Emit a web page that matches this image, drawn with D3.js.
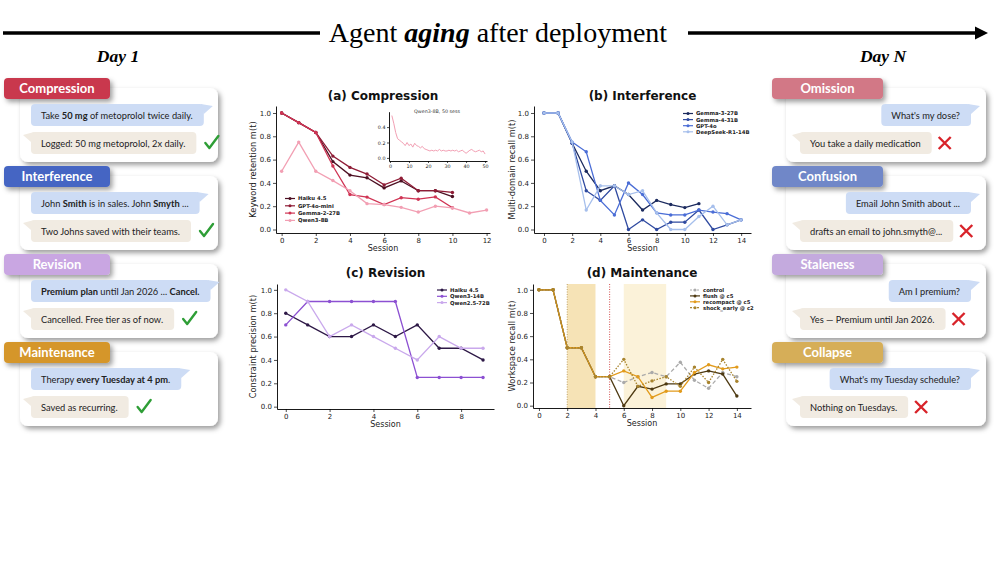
<!DOCTYPE html>
<html>
<head>
<meta charset="utf-8">
<script src="https://cdn.jsdelivr.net/npm/d3@7"></script>
<style>
  body { margin: 0; background: #fff; }
  svg { display: block; }
</style>
</head>
<body>
<svg id="fig" width="996" height="565"></svg>
<script>
// ---------------- data ----------------
// (a) Compression: keyword retention per session
const compHaiku   = [1.0, 0.917, 0.833, 0.583, 0.467, 0.444, 0.357, 0.417, 0.333, 0.333, 0.283];
const compGpt4oMini = [1.0, 0.917, 0.833, 0.63, 0.533, 0.476, 0.383, 0.44, 0.333, 0.333, 0.318];
const compGemma2  = [1.0, 0.917, 0.833, 0.545, 0.30, 0.278, 0.214, 0.273, 0.26, 0.28, 0.187];
const compQwen3   = [0.5, 0.75, 0.5, 0.42, 0.333, 0.222, 0.214, 0.19, 0.15, 0.20, 0.185, 0.142, 0.167];
// inset: Qwen3-8B over 50 sessions (sessions 1..50)
const insetQwen50 = [0.55, 0.45, 0.33, 0.25, 0.23, 0.21, 0.19, 0.16, 0.20, 0.16,
                     0.18, 0.14, 0.19, 0.16, 0.15, 0.13, 0.15, 0.12, 0.11, 0.10,
                     0.09, 0.10, 0.09, 0.10, 0.09, 0.11, 0.09, 0.10, 0.09, 0.09,
                     0.10, 0.09, 0.10, 0.09, 0.10, 0.08, 0.09, 0.10, 0.08, 0.06,
                     0.08, 0.10, 0.11, 0.09, 0.08, 0.09, 0.10, 0.08, 0.09, 0.05];

// (b) Interference: multi-domain recall
const intGemma3   = [1, 1, 0.74, 0.5, 0.333, 0.375, 0.30, 0.167, 0.25, 0.214, 0.188, 0.222];
const intGemma4   = [1, 1, 0.74, 0.333, 0.25, 0.375, 0.0, 0.083, 0.0, 0.0625, 0.0625, 0.167, 0.0, 0.04, 0.083];
const intGpt4o    = [1, 1, 0.75, 0.667, 0.25, 0.125, 0.40, 0.30, 0.143, 0.125, 0.125, 0.167, 0.15, 0.136, 0.083];
const intDeepSeek = [1, 1, 0.75, 0.167, 0.375, 0.375, 0.30, 0.333, 0.143, 0.0, 0.0, 0.111, 0.20, 0.04, 0.083];

// (c) Revision: constraint precision
const revHaiku  = [0.8, 0.7, 0.6, 0.6, 0.7, 0.6, 0.7, 0.5, 0.5, 0.4];
const revQwen3  = [0.7, 0.9, 0.9, 0.9, 0.9, 0.9, 0.25, 0.25, 0.25, 0.25];
const revQwen25 = [1.0, 0.9, 0.6, 0.7, 0.6, 0.5, 0.4, 0.6, 0.5, 0.5];

// (d) Maintenance: workspace recall
const mainControl   = [1, 1, 0.5, 0.5, 0.25, 0.25, 0.20, 0.25, 0.286, 0.25, 0.375, 0.22, 0.15, 0.286, 0.25];
const mainFlush     = [1, 1, 0.5, 0.5, 0.25, 0.25, 0.0, 0.167, 0.143, 0.188, 0.188, 0.273, 0.30, 0.273, 0.083];
const mainRecompact = [1, 1, 0.5, 0.5, 0.25, 0.25, 0.30, 0.25, 0.071, 0.125, 0.125, 0.286, 0.353, 0.318, 0.333];
const mainShock     = [1, 1, 0.5, 0.5, 0.25, 0.25, 0.40, 0.167, 0.214, 0.25, 0.167, 0.333, 0.20, 0.40, 0.21];
const shadedSpans   = [[2, 4], [6, 9]];
const markerSessions = [2, 5];

// tick labels
const ticksA = [0, 2, 4, 6, 8, 10, 12];
const ticksB = [0, 2, 4, 6, 8, 10, 12, 14];
const ticksC = [0, 2, 4, 6, 8];
const ticksY = [0, 0.2, 0.4, 0.6, 0.8, 1.0];
const ticksInsetX = [0, 10, 20, 30, 40, 50];
const ticksInsetY = [0, 0.2, 0.4];

// cards (text pieces: [text, bold])
const leftTags = ["Compression", "Interference", "Revision", "Maintenance"];
const leftUserMsgs = [
  [["Take ", 0], ["50 mg", 1], [" of metoprolol twice daily.", 0]],
  [["John ", 0], ["Smith", 1], [" is in sales. John ", 0], ["Smyth", 1], [" ...", 0]],
  [["Premium plan", 1], [" until Jan 2026 ... ", 0], ["Cancel.", 1]],
  [["Therapy ", 0], ["every Tuesday at 4 pm", 1], [".", 0]]
];
const leftReplies = ["Logged: 50 mg metoprolol, 2x daily.", "Two Johns saved with their teams.",
                     "Cancelled. Free tier as of now.", "Saved as recurring."];
const rightTags = ["Omission", "Confusion", "Staleness", "Collapse"];
const rightUserMsgs = ["What's my dose?", "Email John Smith about ...", "Am I premium?", "What's my Tuesday schedule?"];
const rightReplies = ["You take a daily medication", "drafts an email to john.smyth@...",
                      "Yes \u2014 Premium until Jan 2026.", "Nothing on Tuesdays."];

// ---------------- drawing ----------------
const svg = d3.select("#fig");
const defs = svg.append("defs");
defs.append("filter").attr("id", "shadow").attr("x", "-20%").attr("y", "-20%").attr("width", "150%").attr("height", "160%")
  .append("feDropShadow").attr("dx", 2.5).attr("dy", 3).attr("stdDeviation", 2.4)
  .attr("flood-color", "#000").attr("flood-opacity", 0.38);

// header
svg.append("line").attr("x1", 3).attr("x2", 320).attr("y1", 33).attr("y2", 33)
  .attr("stroke", "#000").attr("stroke-width", 3.5);
svg.append("line").attr("x1", 688).attr("x2", 977).attr("y1", 33).attr("y2", 33)
  .attr("stroke", "#000").attr("stroke-width", 3.5);
svg.append("path").attr("d", "M975,26.5 L988,33 L975,39.5 Z").attr("fill", "#000");

const title = svg.append("text").attr("x", 498).attr("y", 42).attr("text-anchor", "middle")
  .attr("font-family", "Liberation Serif").attr("font-size", 28).attr("fill", "#000");
title.append("tspan").text("Agent ");
title.append("tspan").attr("font-style", "italic").attr("font-weight", "bold").text("aging");
title.append("tspan").text(" after deployment");

[["Day 1", 118], ["Day N", 883]].forEach(([t, x]) => {
  svg.append("text").attr("x", x).attr("y", 62).attr("text-anchor", "middle")
    .attr("font-family", "Liberation Serif").attr("font-style", "italic").attr("font-weight", "bold")
    .attr("font-size", 17.5).text(t);
});

// cards
const leftColors = ["#c9384d", "#4565c3", "#c9a6e2", "#d5962b"];
const rightColors = ["#d27886", "#6f87c8", "#c4aade", "#d6ae58"];
const cardFont = "Lato";

function bubble(g, x, y, pieces, kind, anchorRight) {
  const bg = g.append("g");
  const rect = bg.append("rect").attr("y", y).attr("height", 22).attr("rx", 4)
    .attr("fill", kind === "user" ? "#cddcf5" : "#f1ebe2");
  const tail = bg.append("path").attr("fill", kind === "user" ? "#cddcf5" : "#f1ebe2");
  const txt = bg.append("text").attr("y", y + 14.5).attr("font-family", cardFont)
    .attr("font-size", 9.3).attr("fill", "#222");
  (typeof pieces === "string" ? [[pieces, 0]] : pieces).forEach(([t, b]) => {
    txt.append("tspan").attr("font-weight", b ? "bold" : null).text(t);
  });
  const tw = txt.node().getComputedTextLength();
  const w = tw + 21;
  const bx = anchorRight ? x - w : x;
  rect.attr("x", bx).attr("width", w);
  txt.attr("x", bx + 10);
  if (kind === "user") {
    const r = bx + w;
    tail.attr("d", `M${r - 3},${y} L${r + 9},${y + 2} L${r},${y + 10} Z`);
  } else {
    tail.attr("d", `M${bx + 3},${y} L${bx - 8},${y + 3} L${bx},${y + 10} Z`);
  }
  return bx + w;
}

function card(i, side) {
  const top = 88 + i * 88;
  const cardX = side === "left" ? 20 : 786;
  const cardW = side === "left" ? 198 : 200;
  const tagX = side === "left" ? 4 : 772;
  const tagW = side === "left" ? 106 : 111;
  const g = svg.append("g");
  g.append("rect").attr("x", cardX).attr("y", top).attr("width", cardW).attr("height", 74)
    .attr("rx", 8).attr("fill", "#fff").attr("filter", "url(#shadow)");
  g.append("rect").attr("x", tagX).attr("y", top - 10).attr("width", tagW).attr("height", 21)
    .attr("rx", 4).attr("fill", side === "left" ? leftColors[i] : rightColors[i]).attr("filter", "url(#shadow)");
  g.append("text").attr("x", tagX + tagW / 2).attr("y", top + 4.8).attr("text-anchor", "middle")
    .attr("font-family", cardFont).attr("font-weight", "bold").attr("font-size", 13).attr("fill", "#fff")
    .text(side === "left" ? leftTags[i] : rightTags[i]);
  let endX;
  if (side === "left") {
    bubble(g, 31, top + 16, leftUserMsgs[i], "user", false);
    endX = bubble(g, 31, top + 44, leftReplies[i], "reply", false);
    const cx = endX + 15, cy = top + 55;
    g.append("path").attr("d", `M${cx - 6},${cy} L${cx - 2},${cy + 5} L${cx + 7},${cy - 7}`)
      .attr("fill", "none").attr("stroke", "#2e9e36").attr("stroke-width", 2.4)
      .attr("stroke-linejoin", "round").attr("stroke-linecap", "round");
  } else {
    bubble(g, 971, top + 16, rightUserMsgs[i], "user", true);
    endX = bubble(g, 800, top + 44, rightReplies[i], "reply", false);
    const cx = endX + 13, cy = top + 55;
    g.append("path").attr("d", `M${cx - 6},${cy - 6} L${cx + 6},${cy + 6} M${cx + 6},${cy - 6} L${cx - 6},${cy + 6}`)
      .attr("fill", "none").attr("stroke", "#d8232a").attr("stroke-width", 2.4);
  }
}
d3.range(4).forEach(i => { card(i, "left"); card(i, "right"); });

// ---------------- chart panels ----------------
const axisFont = "DejaVu Sans";

function styleAxis(g, fs) {
  g.attr("font-family", axisFont).attr("font-size", fs);
  g.select(".domain").attr("stroke", "#000").attr("stroke-width", 0.9);
  g.selectAll(".tick line").attr("stroke", "#000").attr("stroke-width", 0.7);
  g.selectAll(".tick text").attr("fill", "#222");
}

function drawPanel(p) {
  const g = svg.append("g");
  const [x0, x1] = p.x.range();
  const [yb, yt] = p.y.range();
  if (p.under) p.under(g);

  g.append("g").attr("transform", `translate(0,${yb})`)
    .call(d3.axisBottom(p.x).tickValues(p.xticks).tickFormat(d3.format("d"))
      .tickSize(3).tickSizeOuter(0).tickPadding(2))
    .call(a => styleAxis(a, 7));
  g.append("g").attr("transform", `translate(${x0},0)`)
    .call(d3.axisLeft(p.y).tickValues(ticksY).tickFormat(d3.format(".1f"))
      .tickSize(3).tickSizeOuter(0).tickPadding(2))
    .call(a => styleAxis(a, 7));

  g.append("text").attr("x", (x0 + x1) / 2).attr("y", p.titleY).attr("text-anchor", "middle")
    .attr("font-family", axisFont).attr("font-weight", "bold").attr("font-size", 12).attr("fill", "#111")
    .text(p.title);
  g.append("text").attr("x", (x0 + x1) / 2).attr("y", yb + 18).attr("text-anchor", "middle")
    .attr("font-family", axisFont).attr("font-size", 8).attr("fill", "#222").text("Session");
  g.append("text").attr("transform", `translate(${p.ylabelX},${(yb + yt) / 2}) rotate(-90)`)
    .attr("text-anchor", "middle").attr("font-family", axisFont).attr("font-size", 8.3).attr("fill", "#222")
    .text(p.ylabel);

  const line = d3.line().x((d, i) => p.x(i)).y(d => p.y(d));
  p.series.forEach(s => {
    g.append("path").datum(s.values).attr("fill", "none").attr("stroke", s.color)
      .attr("stroke-width", 1.3).attr("stroke-dasharray", s.dash || null).attr("d", line);
    g.append("g").selectAll("circle").data(s.values).join("circle")
      .attr("cx", (d, i) => p.x(i)).attr("cy", d => p.y(d)).attr("r", 1.7).attr("fill", s.color);
  });

  // legend
  p.series.forEach((s, k) => {
    const ly = p.legend.y + k * p.legend.dy, lx = p.legend.x;
    g.append("line").attr("x1", lx).attr("x2", lx + 10).attr("y1", ly).attr("y2", ly)
      .attr("stroke", s.color).attr("stroke-width", 1.2).attr("stroke-dasharray", s.dash ? "2,1.5" : null);
    g.append("circle").attr("cx", lx + 5).attr("cy", ly).attr("r", 1.5).attr("fill", s.color);
    g.append("text").attr("x", lx + 13).attr("y", ly + 1.9).attr("font-family", axisFont)
      .attr("font-weight", "bold").attr("font-size", 5.3).attr("fill", "#222").text(s.name);
  });
  return g;
}

// (a) Compression
const xA = d3.scaleLinear([-0.33, 12.2], [276, 490]);
const yA = d3.scaleLinear([-0.03, 1.06], [233, 106]);
const gA = drawPanel({
  x: xA, y: yA, xticks: ticksA, title: "(a) Compression", titleY: 100,
  ylabel: "Keyword retention  m(t)", ylabelX: 256,
  legend: { x: 285, y: 198.5, dy: 7.3 },
  series: [
    { name: "Haiku 4.5", values: compHaiku, color: "#4c0f22" },
    { name: "GPT-4o-mini", values: compGpt4oMini, color: "#8f1c36" },
    { name: "Gemma-2-27B", values: compGemma2, color: "#d03454" },
    { name: "Qwen3-8B", values: compQwen3, color: "#f29fb3" }
  ]
});

// inset
const xI = d3.scaleLinear([-0.5, 51], [389, 487]);
const yI = d3.scaleLinear([-0.04, 0.6], [161, 111.7]);
gA.append("g").attr("transform", "translate(0,161)")
  .call(d3.axisBottom(xI).tickValues(ticksInsetX).tickFormat(d3.format("d")).tickSize(2).tickSizeOuter(0).tickPadding(1.5))
  .call(a => styleAxis(a, 4.8));
gA.append("g").attr("transform", "translate(389,0)")
  .call(d3.axisLeft(yI).tickValues(ticksInsetY).tickFormat(d3.format(".1f")).tickSize(2).tickSizeOuter(0).tickPadding(1.5))
  .call(a => styleAxis(a, 4.8));
gA.append("path").datum(insetQwen50).attr("fill", "none").attr("stroke", "#f29fb3").attr("stroke-width", 1)
  .attr("d", d3.line().x((d, i) => xI(i + 1)).y(d => yI(d)));
gA.append("text").attr("x", 437).attr("y", 113).attr("text-anchor", "middle").attr("font-family", axisFont)
  .attr("font-size", 4.8).attr("fill", "#333").text("Qwen3-8B, 50 sess");

// (b) Interference
drawPanel({
  x: d3.scaleLinear([-0.71, 14.7], [534, 751]), y: d3.scaleLinear([-0.03, 1.06], [233, 106]),
  xticks: ticksB, title: "(b) Interference", titleY: 100,
  ylabel: "Multi-domain recall  m(t)", ylabelX: 515,
  legend: { x: 683, y: 113.5, dy: 6.1 },
  series: [
    { name: "Gemma-3-27B", values: intGemma3, color: "#1b2a5e" },
    { name: "Gemma-4-31B", values: intGemma4, color: "#2f4aa0" },
    { name: "GPT-4o", values: intGpt4o, color: "#4a6dd6" },
    { name: "DeepSeek-R1-14B", values: intDeepSeek, color: "#a6bfec" }
  ]
});

// (c) Revision
drawPanel({
  x: d3.scaleLinear([-0.4, 9.5], [277, 494]), y: d3.scaleLinear([-0.02, 1.05], [409, 284]),
  xticks: ticksC, title: "(c) Revision", titleY: 277,
  ylabel: "Constraint precision  m(t)", ylabelX: 256,
  legend: { x: 437, y: 290, dy: 6.3 },
  series: [
    { name: "Haiku 4.5", values: revHaiku, color: "#2d1846" },
    { name: "Qwen3-14B", values: revQwen3, color: "#8c50d2" },
    { name: "Qwen2.5-72B", values: revQwen25, color: "#c9a8ec" }
  ]
});

// (d) Maintenance
const xD = d3.scaleLinear([-0.42, 15], [533, 751]);
const yD = d3.scaleLinear([-0.02, 1.05], [408, 284]);
drawPanel({
  x: xD, y: yD, xticks: ticksB, title: "(d) Maintenance", titleY: 277,
  ylabel: "Workspace recall  m(t)", ylabelX: 515,
  legend: { x: 690, y: 290, dy: 5.9 },
  under: g => {
    g.selectAll("rect.span").data(shadedSpans).join("rect").attr("class", "span")
      .attr("x", d => xD(d[0])).attr("width", d => xD(d[1]) - xD(d[0]))
      .attr("y", 284).attr("height", 124)
      .attr("fill", (d, i) => i === 0 ? "#f6e3b6" : "#fbf2d9");
    g.selectAll("line.mark").data(markerSessions).join("line").attr("class", "mark")
      .attr("x1", d => xD(d)).attr("x2", d => xD(d)).attr("y1", 284).attr("y2", 408)
      .attr("stroke", (d, i) => i === 0 ? "#b8975c" : "#cf3b3b").attr("stroke-width", 0.9)
      .attr("stroke-dasharray", "1,1.5");
  },
  series: [
    { name: "control", values: mainControl, color: "#aaaaaa", dash: "4,2.5" },
    { name: "flush @ c5", values: mainFlush, color: "#4e3a12" },
    { name: "recompact @ c5", values: mainRecompact, color: "#e29b1c" },
    { name: "shock_early @ c2", values: mainShock, color: "#a8842e", dash: "1.5,1.5" }
  ]
});
</script>
</body>
</html>
